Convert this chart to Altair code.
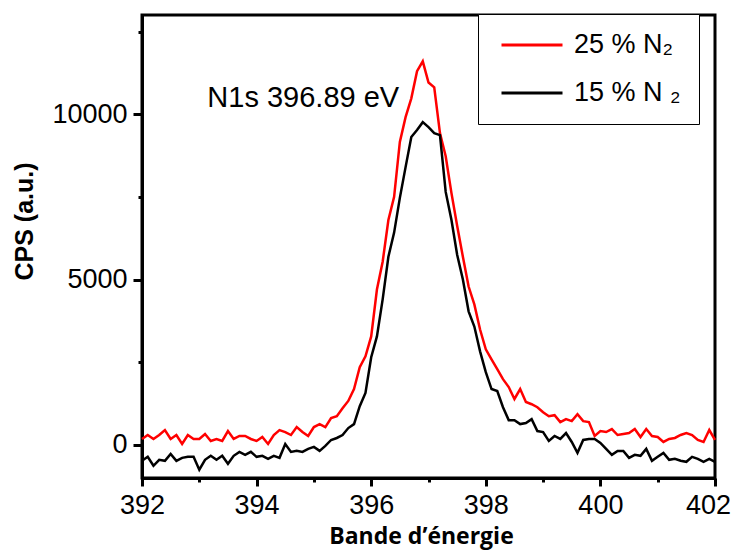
import altair as alt
import pandas as pd

# ---- data ----
energy = [round(392 + 0.1 * i, 1) for i in range(101)]

cps_25 = [180, 300, 180, 300, 450, 180, 300, 30, 300, 180,
          180, 330, 120, 180, 120, 420, 180, 270, 270, 180,
          120, 240, 30, 300, 450, 390, 300, 540, 390, 270,
          540, 630, 540, 810, 870, 1110, 1330, 1690, 2350, 2680,
          3280, 4700, 5540, 6800, 7500, 9160, 9910, 10480, 11300, 11600,
          10960, 10810, 9430, 8730, 7620, 6630, 5690, 4790, 4250, 3490,
          2890, 2590, 2290, 1990, 1750, 1390, 1690, 1300, 1230, 1140,
          990, 870, 900, 690, 780, 720, 930, 720, 690, 270,
          420, 390, 480, 300, 330, 360, 480, 240, 480, 270,
          240, 90, 180, 210, 300, 360, 300, 150, 90, 450,
          150]

cps_15 = [-480, -360, -630, -450, -480, -270, -480, -390, -360, -360,
          -750, -450, -330, -450, -330, -570, -330, -210, -300, -210,
          -360, -330, -420, -330, -390, 30, -210, -180, -210, -120,
          -60, -180, -30, 150, 210, 300, 510, 630, 1170, 1570,
          2650, 3280, 4400, 5690, 6420, 7470, 8400, 9310, 9520, 9760,
          9610, 9430, 9370, 7650, 6810, 5750, 5000, 4040, 3580, 2830,
          2200, 1690, 1630, 1140, 750, 750, 630, 660, 780, 420,
          390, 120, 270, 180, 360, 90, -240, 150, 180, 180,
          60, -120, -300, -180, -180, -390, -300, -330, -120, -480,
          -360, -240, -450, -420, -480, -510, -360, -420, -510, -420,
          -510]

series_labels = ["25 % N₂", "15 % N ₂"]
series_colors = ["#ff0000", "#000000"]

x_major = [392, 394, 396, 398, 400, 402]
x_minor = [393, 395, 397, 399, 401]
y_major = [0, 5000, 10000]
y_minor = [2500, 7500, 12500]

annotation_text = ["N1s 396.89 eV"]
annotation_x = [393.14]
annotation_y = [10210]

# ---- tables ----
df = pd.DataFrame({
    "energy": energy + energy,
    "cps": cps_25 + cps_15,
    "series": [series_labels[0]] * len(energy) + [series_labels[1]] * len(energy),
})
ann = pd.DataFrame({"x": annotation_x, "y": annotation_y, "t": annotation_text})

xs = alt.Scale(domain=[392, 402], nice=False, zero=False)
ys = alt.Scale(domain=[-1000, 13000], nice=False, zero=False)

FONT = "Liberation Sans"

lines = alt.Chart(df).mark_line(strokeWidth=2.5).encode(
    x=alt.X("energy:Q", scale=xs, axis=alt.Axis(
        values=x_major, format="d", orient="bottom", grid=False,
        labelFont=FONT, labelFontSize=27, labelPadding=6, labelFlush=False,
        labelOffset={"condition": {"test": "datum.value == 402", "value": -7}, "value": 0},
        tickSize=8, tickWidth=3, tickColor="black",
        domainWidth=3, domainColor="black",
        title="Bande d’énergie", titleFont="Open Sans", titleFontSize=23,
        titleFontWeight="bold", titleColor="black",
        titleX=279, titleY=65, titleBaseline="alphabetic", titleAlign="center")),
    y=alt.Y("cps:Q", scale=ys, axis=alt.Axis(
        values=y_major, format="d", orient="left", grid=False,
        labelFont=FONT, labelFontSize=27, labelPadding=6, labelFlush=False,
        tickSize=9, tickWidth=3, tickColor="black",
        domainWidth=3, domainColor="black",
        title="CPS (a.u.)", titleFont=FONT, titleFontSize=25,
        titleFontWeight="bold", titleColor="black",
        titleX=-118, titleY=206, titleAngle=270, titleBaseline="middle",
        titleAlign="center")),
    color=alt.Color("series:N",
                    scale=alt.Scale(domain=series_labels, range=series_colors),
                    sort=series_labels,
                    legend=alt.Legend(
                        title=None, orient="none", legendX=336, legendY=-1,
                        strokeColor="black", fillColor="white", padding=18,
                        symbolType="stroke", symbolSize=3721, symbolStrokeWidth=3,
                        clipHeight=26, rowPadding=21, symbolOffset=4,
                        labelOffset=10, labelFont=FONT, labelFontSize=27,
                        labelColor="black", labelLimit=300)),
)

minor = alt.Chart(df).mark_line(opacity=0).encode(
    x=alt.X("energy:Q", scale=xs, axis=alt.Axis(
        values=x_minor, orient="bottom", labels=False, domain=False, grid=False,
        tickSize=4, tickWidth=3, tickColor="black", title=None)),
    y=alt.Y("cps:Q", scale=ys, axis=alt.Axis(
        values=y_minor, orient="left", labels=False, domain=False, grid=False,
        tickSize=4, tickWidth=3, tickColor="black", title=None)),
)

label = alt.Chart(ann).mark_text(
    align="left", baseline="alphabetic", font=FONT, fontSize=29, color="black"
).encode(
    x=alt.X("x:Q", scale=xs, axis=None),
    y=alt.Y("y:Q", scale=ys, axis=None),
    text="t:N",
)

chart = alt.layer(lines, minor, label).resolve_axis(
    x="independent", y="independent"
).properties(
    width=573, height=463,
    autosize=alt.AutoSizeParams(type="none"),
    padding={"left": 134, "top": 7, "right": 17, "bottom": 72},
).configure_view(
    stroke="black", strokeWidth=3
)

chart.save("out.html", embed_options={"renderer": "svg", "actions": False})
